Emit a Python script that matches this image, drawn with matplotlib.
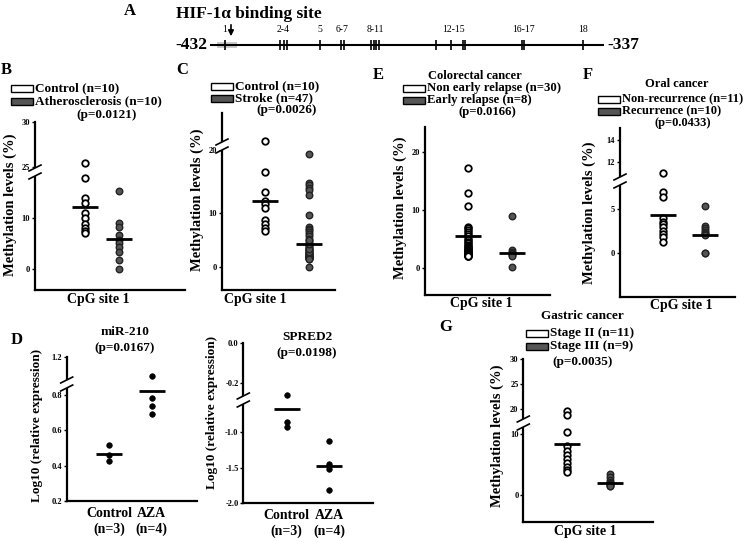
import numpy as np
import matplotlib
matplotlib.use("Agg")
import matplotlib.pyplot as plt
from matplotlib.patches import Rectangle

plt.rcParams['font.family'] = ['Liberation Serif', 'DejaVu Serif']
plt.rcParams['font.weight'] = 'bold'

W, H = 750, 538

# ---- data ----
# A: CpG sites in the -432..-337 fragment
site_pos = [-428.4, -415.2, -414.2, -413.5, -405.4, -400.3, -399.8, -393.1, -392.4,
            -391.9, -391.2, -377.5, -373.9, -371.1, -370.6, -356.7, -356.2, -342.0]
site_labels = ['1', '2-4', '5', '6-7', '8-11', '12-15', '16-17', '18']
site_members = [[0], [1, 2, 3], [4], [5, 6], [7, 8, 9, 10], [11, 12, 13, 14], [15, 16], [17]]

# B: atherosclerosis
b_control = [25.4, 17.8, 14.0, 12.9, 11.0, 10.0, 8.8, 8.0, 7.5, 7.1]
b_disease = [15.3, 9.0, 8.2, 6.6, 5.6, 5.0, 4.3, 3.4, 1.8, 0.0]
b_means = [12.2, 5.8]

# C: stroke
c_control = [21.5, 16.5, 13.3, 11.9, 11.4, 10.8, 8.6, 7.9, 7.2, 6.6]
c_disease = [19.3, 14.8, 14.4, 14.0, 13.6, 12.8, 9.6, 7.4, 7.0, 6.8, 6.4, 6.0, 5.6, 5.2,
             4.8, 4.4, 4.0, 3.8, 3.6, 3.4, 3.3, 3.1, 3.0, 2.9, 2.7, 2.6, 2.5, 2.4, 2.3,
             2.2, 2.1, 2.0, 2.0, 1.9, 1.8, 1.8, 1.7, 1.7, 1.6, 1.6, 1.5, 1.5, 2.8, 3.2,
             4.2, 5.0, 0.0]
c_means = [11.9, 4.2]

# E: colorectal cancer
e_control = [17.3, 12.9, 10.6, 7.1, 6.8, 6.5, 6.2, 5.8, 5.4, 5.0, 4.8, 4.5, 4.3, 4.0, 3.8,
             3.6, 3.4, 3.2, 3.1, 3.0, 2.9, 2.8, 2.6, 2.5, 2.4, 2.3, 2.2, 2.1, 2.0, 2.0]
e_relapse = [9.0, 3.1, 2.8, 2.6, 2.4, 2.2, 2.1, 0.1]
e_means = [5.4, 2.5]

# F: oral cancer
f_control = [11.1, 7.0, 6.4, 4.0, 3.6, 3.3, 3.0, 2.5, 2.2, 1.9, 1.3]
f_recur = [5.4, 3.1, 2.9, 2.6, 2.4, 2.3, 2.2, 2.1, 0.0, 0.0]
f_means = [4.35, 2.1]

# D: expression after AZA
mir_control = [0.516, 0.46, 0.425]
mir_aza = [0.967, 0.783, 0.739, 0.691]
mir_means = [0.465, 0.82]
spred_control = [-0.26, -0.85, -0.92]
spred_aza = [-1.12, -1.44, -1.51, -1.81]
spred_means = [-0.67, -1.47]

# G: gastric cancer
g_stage2 = [19.6, 18.8, 10.3, 8.0, 7.3, 6.6, 5.9, 5.2, 4.6, 4.2, 3.8]
g_stage3 = [3.5, 3.0, 2.5, 2.2, 1.9, 1.8, 1.6, 1.5, 1.5]
g_means = [8.4, 2.0]

# ---- layout helpers ----
fig = plt.figure(figsize=(7.5, 5.38), dpi=100)


def px_axes(x0, y0, x1, y1):
    return fig.add_axes([x0 / W, 1 - y1 / H, (x1 - x0) / W, (y1 - y0) / H])


def lin(x, xk, yk):
    x = np.asarray(x, float)
    out = np.interp(x, xk, yk)
    s0 = (yk[1] - yk[0]) / (xk[1] - xk[0])
    s1 = (yk[-1] - yk[-2]) / (xk[-1] - xk[-2])
    out = np.where(x < xk[0], yk[0] + (x - xk[0]) * s0, out)
    out = np.where(x > xk[-1], yk[-1] + (x - xk[-1]) * s1, out)
    return out


def broken_scale(vals, pix):
    # piecewise linear y scale, used for the broken axes
    v = np.asarray(vals, float)
    h = H - np.asarray(pix, float)
    return (lambda x: lin(x, v, h)), (lambda y: lin(y, h, v))


overlay = fig.add_axes([0, 0, 1, 1], zorder=10)
overlay.set_xlim(0, W)
overlay.set_ylim(H, 0)
overlay.axis('off')
overlay.patch.set_alpha(0)


def otext(x, y, s, size=9.5, ha='center', **kw):
    overlay.text(x, y, s, fontsize=size, ha=ha, va='center', **kw)


def axis_break(x, y):
    overlay.add_patch(Rectangle((x - 3, y - 4), 6, 8, fc='white', ec='none', zorder=5))
    for dy in (-4, 4):
        overlay.plot([x - 6, x + 6], [y + dy + 3, y + dy - 3], color='black', lw=1.2, zorder=6)


def legend_row(x, y, s, filled, size=9.5):
    overlay.add_patch(Rectangle((x, y - 3.5), 22, 7, fc='#555555' if filled else 'white',
                                ec='black', lw=1))
    otext(x + 24, y, s, size=size, ha='left')


def dot_panel(rect, knots, xlim, groups, means, styles, yticks, yticklabels,
              dot_s=22, xticklabels=None):
    ax = px_axes(*rect)
    fwd, inv = broken_scale(*knots)
    ax.set_yscale('function', functions=(fwd, inv))
    ax.set_ylim(knots[0][0], knots[0][-1])
    ax.set_xlim(*xlim)
    hw = 13 * (xlim[1] - xlim[0]) / (rect[2] - rect[0])
    for i, (vals, m, st) in enumerate(zip(groups, means, styles)):
        xs = np.full(len(vals), i + 1)
        if st == 'open':
            ax.scatter(xs, vals, s=dot_s, facecolor='white', edgecolor='black', lw=1.3, zorder=2)
        elif st == 'gray':
            ax.scatter(xs, vals, s=dot_s, facecolor='#555555', edgecolor='#222222', lw=1.0, zorder=2)
        else:
            ax.scatter(xs, vals, s=dot_s, facecolor='black', edgecolor='black', lw=0.5, zorder=2)
        ax.hlines(m, i + 1 - hw, i + 1 + hw, color='black', lw=2, zorder=3)
    for sp in ('top', 'right'):
        ax.spines[sp].set_visible(False)
    for sp in ('left', 'bottom'):
        ax.spines[sp].set_linewidth(1.6)
    ax.set_yticks(yticks)
    ax.set_yticklabels(yticklabels)
    ax.tick_params(axis='y', labelsize=6, length=2.5, width=1, pad=1)
    ax.yaxis.set_minor_locator(matplotlib.ticker.NullLocator())
    if xticklabels is None:
        ax.set_xticks([])
    else:
        ax.set_xticks([1, 2])
        ax.set_xticklabels(xticklabels, fontsize=10, linespacing=1.3)
        ax.tick_params(axis='x', length=0, pad=4)
    ax.patch.set_alpha(0)
    return ax


# ---- panel A ----
ax_a = px_axes(210, 35, 604, 55)
ax_a.set_xlim(-432, -337)
ax_a.set_ylim(-1, 1)
ax_a.axis('off')
ax_a.add_patch(Rectangle((-430.3, -0.3), 4.8, 0.6, fc='#cccccc', ec='none', zorder=1))
ax_a.plot([-432, -337], [0, 0], color='black', lw=1.5, zorder=2)
ax_a.vlines(site_pos, -0.5, 0.5, color='black', lw=1.2, zorder=3)
for lab, mem in zip(site_labels, site_members):
    ax_a.text(np.mean([site_pos[k] for k in mem]), 1.5, lab, fontsize=7, fontweight='normal',
              ha='center', va='center')
otext(130, 11, 'A', size=12)
otext(176, 14, 'HIF-1\u03b1 binding site', size=12.5, ha='left')
overlay.annotate('', xy=(231, 39), xytext=(231, 22),
                 arrowprops=dict(arrowstyle='-|>', color='black', lw=1.2, mutation_scale=8))
otext(207, 45, '-432', size=12.5, ha='right')
otext(607, 45, '-337', size=12.5, ha='left')

# ---- panel B ----
dot_panel((35, 121.7, 185, 290), ([-4.1, 0, 10, 18, 25, 30], [290, 269, 218, 177.2, 166.7, 121.7]),
          (-0.46, 3.92), [b_control, b_disease], b_means, ['open', 'gray'],
          [0, 10, 25, 30], ['0', '10', '25', '30'])
axis_break(35, 172)
otext(6, 70, 'B', size=12)
legend_row(11, 88, 'Control (n=10)', False)
legend_row(11, 101, 'Atherosclerosis (n=10)', True)
otext(107, 115, '(p=0.0121)')
otext(10, 205, 'Methylation levels (%)', size=10.5, rotation=90)
otext(98, 300, 'CpG site 1', size=10)

# ---- panel C ----
dot_panel((222, 113, 335, 290), ([-4.3, 0, 10, 20, 26], [290, 266.7, 212.7, 150, 113]),
          (0.02, 2.6), [c_control, c_disease], c_means, ['open', 'gray'],
          [0, 10, 20], ['0', '10', '20'])
axis_break(222, 146)
otext(182, 70, 'C', size=12)
legend_row(211, 86, 'Control (n=10)', False)
legend_row(211, 98, 'Stroke (n=47)', True)
otext(287, 110, '(p=0.0026)')
otext(197, 200, 'Methylation levels (%)', size=10.5, rotation=90)
otext(255, 300, 'CpG site 1', size=10)

# ---- panel E ----
dot_panel((425, 126.7, 550, 295), ([-4.73, 0, 24.4], [295, 267.7, 126.7]),
          (0.03, 2.87), [e_control, e_relapse], e_means, ['open', 'gray'],
          [0, 10, 20], ['0', '10', '20'])
otext(378, 75, 'E', size=12)
otext(475, 76, 'Colorectal cancer', size=9)
legend_row(403, 88, 'Non early relapse (n=30)', False, size=9.2)
legend_row(403, 100, 'Early relapse (n=8)', True, size=9.2)
otext(487, 112, '(p=0.0166)', size=9.2)
otext(400, 208, 'Methylation levels (%)', size=10.5, rotation=90)
otext(481, 303, 'CpG site 1', size=10)

# ---- panel F ----
dot_panel((620, 128.3, 735, 296.7),
          ([-4.93, 0, 5, 7.8, 10.8, 12, 14, 15.0], [296.7, 253.3, 209.3, 184.7, 177, 161.7, 140, 128.3]),
          (-0.04, 2.72), [f_control, f_recur], f_means, ['open', 'gray'],
          [0, 5, 12, 14], ['0', '5', '12', '14'])
axis_break(620, 181)
otext(588, 75, 'F', size=12)
otext(677, 84, 'Oral cancer', size=9)
legend_row(598, 99, 'Non-recurrence (n=11)', False, size=9)
legend_row(598, 111, 'Recurrence (n=10)', True, size=9)
otext(683, 123, '(p=0.0433)', size=9)
otext(589, 213, 'Methylation levels (%)', size=10.5, rotation=90)
otext(681, 306, 'CpG site 1', size=10)

# ---- panel D ----
dot_panel((66.7, 356.7, 197, 501), ([0.2, 0.86, 1.2], [501, 384.4, 356.7]),
          (0.01, 3.06), [mir_control, mir_aza], mir_means, ['black', 'black'],
          [0.2, 0.4, 0.6, 0.8, 1.2], ['0.2', '0.4', '0.6', '0.8', '1.2'],
          dot_s=16, xticklabels=['Control\n(n=3)', 'AZA\n(n=4)'])
axis_break(66.7, 384)
otext(17, 340, 'D', size=12)
otext(125, 332, 'miR-210')
otext(125, 348, '(p=0.0167)')
otext(37, 425, 'Log10 (relative expression)', size=9.5, rotation=90)

dot_panel((243.3, 343.3, 373, 503.3),
          ([-2.0, -0.6, -0.27, -0.2, 0.0], [503.3, 404, 396.5, 382.7, 343.3]),
          (-0.02, 3.03), [spred_control, spred_aza], spred_means, ['black', 'black'],
          [-2.0, -1.5, -1.0, -0.2, 0.0], ['-2.0', '-1.5', '-1.0', '-0.2', '0.0'],
          dot_s=16, xticklabels=['Control\n(n=3)', 'AZA\n(n=4)'])
axis_break(243.3, 400)
otext(307, 337, 'SPRED2')
otext(307, 353, '(p=0.0198)')
otext(212, 412, 'Log10 (relative expression)', size=9.5, rotation=90)

# ---- panel G ----
dot_panel((523.3, 359.3, 653, 521.7),
          ([-4.4, 0, 10, 11.5, 18, 20, 30], [521.7, 495, 434.3, 425.2, 419, 409, 359.3]),
          (0.0, 2.99), [g_stage2, g_stage3], g_means, ['open', 'gray'],
          [0, 10, 20, 25, 30], ['0', '10', '20', '25', '30'])
axis_break(523.3, 423)
otext(446, 327, 'G', size=12)
otext(582, 316, 'Gastric cancer', size=9.5)
legend_row(526, 333, 'Stage II (n=11)', False)
legend_row(526, 346.5, 'Stage III (n=9)', True)
otext(583, 362, '(p=0.0035)')
otext(497, 436, 'Methylation levels (%)', size=10.5, rotation=90)
otext(585, 531, 'CpG site 1', size=10)

fig.savefig('out.png', dpi=100)
